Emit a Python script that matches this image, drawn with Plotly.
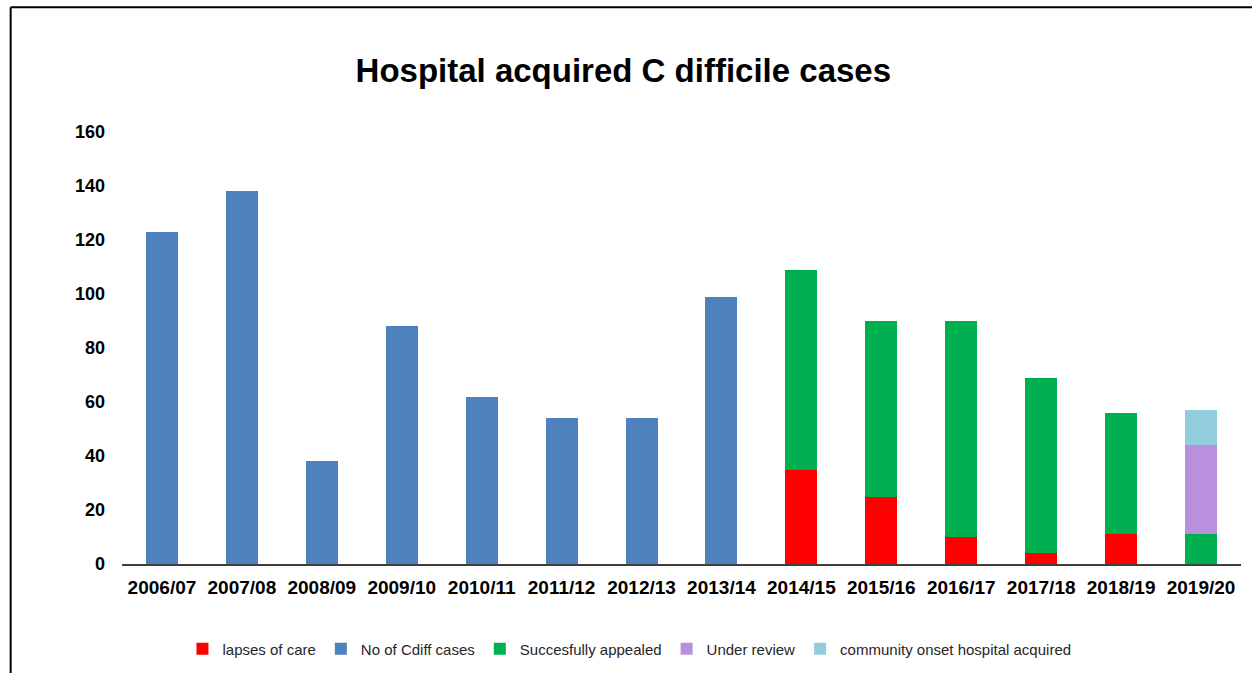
import plotly.graph_objects as go

years = ['2006/07', '2007/08', '2008/09', '2009/10', '2010/11', '2011/12', '2012/13',
         '2013/14', '2014/15', '2015/16', '2016/17', '2017/18', '2018/19', '2019/20']
cdiff_cases = [123, 138, 38, 88, 62, 54, 54, 99, None, None, None, None, None, None]
lapses_of_care = [None] * 8 + [35, 25, 10, 4, 11, None]
appealed = [None] * 8 + [74, 65, 80, 65, 45, 11]
under_review = [None] * 13 + [33]
community_onset = [None] * 13 + [13]

font = 'Liberation Sans, Arial, sans-serif'

fig = go.Figure()
fig.add_trace(go.Bar(x=years, y=lapses_of_care, name='lapses of care', marker_color='#FF0000'))
fig.add_trace(go.Bar(x=years, y=cdiff_cases, name='No of Cdiff cases', marker_color='#4F81BD'))
fig.add_trace(go.Bar(x=years, y=appealed, name='Succesfully appealed', marker_color='#00B050'))
fig.add_trace(go.Bar(x=years, y=under_review, name='Under review', marker_color='#B990DD'))
fig.add_trace(go.Bar(x=years, y=community_onset, name='community onset hospital acquired',
                     marker_color='#93CDDD'))
fig.update_traces(marker_line_width=0)

# frame round the chart area
fig.add_shape(type='line', xref='paper', yref='paper', x0=-0.0995, x1=1.05, y0=1.289, y1=1.289,
              line=dict(color='#000000', width=2))
fig.add_shape(type='line', xref='paper', yref='paper', x0=-0.0995, x1=-0.0995, y0=1.289, y1=-0.4,
              line=dict(color='#000000', width=2))

fig.update_layout(
    width=1252, height=673,
    barmode='stack', bargap=0.6,
    plot_bgcolor='white', paper_bgcolor='white',
    margin=dict(l=122, r=11, t=132, b=109, autoexpand=False),
    font=dict(family=font, color='#000000'),
    title=dict(text='Hospital acquired C difficile cases', x=0.448, xref='paper', xanchor='center',
               y=1 - 70 / 673, yref='container', yanchor='middle',
               font=dict(family=font, size=33, weight='bold', color='#000000')),
    xaxis=dict(showgrid=False, showline=True, linecolor='#404040', linewidth=1.5,
               ticks='', ticklabelstandoff=5, automargin=False,
               tickfont=dict(family=font, size=19, weight='bold', color='#000000')),
    yaxis=dict(range=[0, 160], tickvals=list(range(0, 161, 20)), showgrid=False, zeroline=False,
               showline=False, ticks='', ticklabelstandoff=16, automargin=False,
               tickfont=dict(family=font, size=18, weight='bold', color='#000000')),
    legend=dict(orientation='h', x=0.4535, xanchor='center', y=-0.197, yanchor='middle',
                font=dict(family=font, size=15, color='#262626'), traceorder='normal'),
    showlegend=True,
)

fig.write_html('out.html', config={'displayModeBar': False},
               post_script="document.body.style.margin='0';")
